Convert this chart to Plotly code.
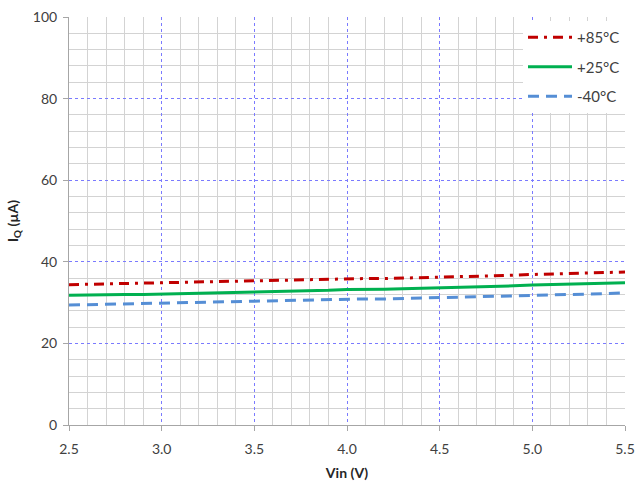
import plotly.graph_objects as go

vin = [2.5, 2.6, 2.7, 2.8, 2.9, 3.0, 3.1, 3.2, 3.3, 3.4, 3.5, 3.6, 3.7, 3.8, 3.9, 4.0,
       4.1, 4.2, 4.3, 4.4, 4.5, 4.6, 4.7, 4.8, 4.9, 5.0, 5.1, 5.2, 5.3, 5.4, 5.5]
iq_85 = [34.4, 34.5, 34.6, 34.7, 34.8, 34.9, 35.0, 35.1, 35.2, 35.3, 35.4, 35.5, 35.5, 35.6, 35.7, 35.8,
         35.9, 35.9, 36.0, 36.1, 36.2, 36.3, 36.4, 36.5, 36.7, 36.9, 37.0, 37.1, 37.2, 37.3, 37.5]
iq_25 = [31.8, 31.9, 31.9, 32.0, 32.0, 32.1, 32.2, 32.2, 32.3, 32.5, 32.6, 32.7, 32.8, 32.9, 33.0, 33.2,
         33.2, 33.3, 33.4, 33.5, 33.6, 33.7, 33.8, 33.9, 34.1, 34.3, 34.4, 34.5, 34.6, 34.7, 34.85]
iq_m40 = [29.4, 29.5, 29.5, 29.6, 29.7, 29.8, 29.9, 30.0, 30.1, 30.2, 30.3, 30.4, 30.5, 30.6, 30.7, 30.8,
          30.9, 30.9, 31.0, 31.1, 31.2, 31.3, 31.4, 31.5, 31.6, 31.8, 31.9, 32.0, 32.1, 32.2, 32.4]

series = [
    ("+85°C", iq_85, "#C00000", "10px,6px,3px,6px"),
    ("+25°C", iq_25, "#00B050", "solid"),
    ("-40°C", iq_m40, "#558ED5", "11px,7px"),
]

fig = go.Figure()
for i, (name, ys, color, dash) in enumerate(series):
    fig.add_trace(go.Scatter(
        x=vin, y=ys, mode="lines", name=name, legendgroup=str(i),
        line=dict(color=color, width=3, dash=dash),
    ))

font = "Lato, 'Open Sans', sans-serif"
fig.update_layout(
    width=637, height=485,
    margin=dict(l=69, r=12, t=17, b=60),
    paper_bgcolor="white", plot_bgcolor="white",
    font=dict(family=font, size=14, color="#404040"),
    legend=dict(
        x=1.0, y=0.99, xanchor="right", yanchor="top",
        bgcolor="white", font=dict(size=15, color="#404040"),
        tracegroupgap=7, itemwidth=44,
    ),
    xaxis=dict(
        range=[2.5, 5.5], dtick=0.5, tick0=2.5, tickformat=".1f",
        automargin=False,
        showgrid=True, gridcolor="#7A7AFF", griddash="dot", gridwidth=1,
        minor=dict(dtick=0.1, showgrid=True, gridcolor="#D3D3D3", gridwidth=1, griddash="solid"),
        showline=True, linecolor="#A6A6A6", linewidth=1,
        ticks="outside", ticklen=5, tickcolor="#A6A6A6",
        ticklabelstandoff=6,
        zeroline=False,
        title=dict(text="<b>Vin (V)</b>", font=dict(size=14, color="#262626"), standoff=12),
    ),
    yaxis=dict(
        range=[0, 100], dtick=20,
        automargin=False,
        showgrid=True, gridcolor="#7A7AFF", griddash="dot", gridwidth=1,
        minor=dict(dtick=4, showgrid=True, gridcolor="#D3D3D3", gridwidth=1, griddash="solid"),
        showline=True, linecolor="#A6A6A6", linewidth=1,
        ticks="outside", ticklen=5, tickcolor="#A6A6A6",
        ticklabelstandoff=3,
        zeroline=False,
        title=dict(text="<b>I<sub>Q</sub> (µA)</b>", font=dict(size=14, color="#262626"), standoff=10),
    ),
)

fig.write_html("out.html", config={"displayModeBar": False},
               post_script="document.body.style.margin='0';")
